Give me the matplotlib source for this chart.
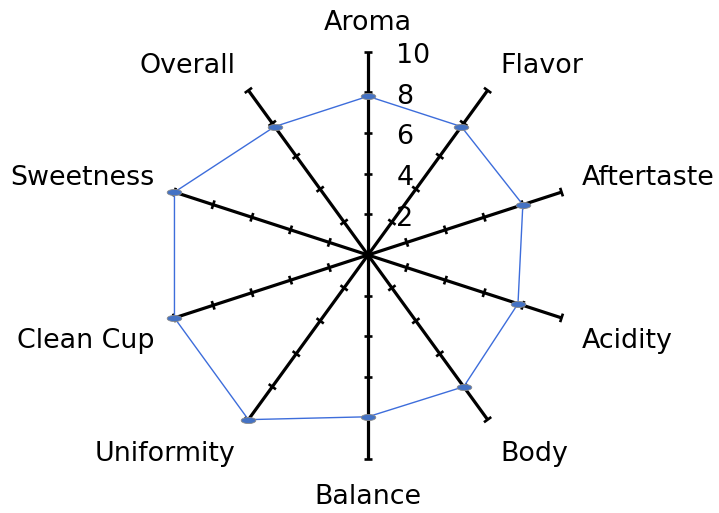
import numpy as np
import matplotlib.pyplot as plt
from matplotlib.path import Path

categories = ["Aroma", "Flavor", "Aftertaste", "Acidity", "Body",
              "Balance", "Uniformity", "Clean Cup", "Sweetness", "Overall"]
scores = [7.8, 7.8, 8.0, 7.75, 8.0, 7.95, 10.0, 10.0, 10.0, 7.8]
ring_ticks = [2, 4, 6, 8, 10]
tick_labels = ["2", "4", "6", "8", "10"]

# pixel layout of the canvas (center of the star and px per unit)
W, H = 719, 513
px = 20.35
cx, cy = 368, 255
fs = 19.4

fig = plt.figure(figsize=(W / 100, H / 100), dpi=100)
ax = fig.add_axes([0, 0, 1, 1])
ax.set_xlim(-cx / px, (W - cx) / px)
ax.set_ylim(-(H - cy) / px, cy / px)
ax.axis("off")

n = len(categories)
theta = np.arange(n) * 2 * np.pi / n
sx, cy_ = np.sin(theta), np.cos(theta)
rmax = max(ring_ticks)
half = 0.22

# spokes with perpendicular ticks
for i in range(n):
    ax.plot([0, rmax * sx[i]], [0, rmax * cy_[i]], color="black", lw=2.3,
            solid_capstyle="butt", zorder=1)
    for t in ring_ticks:
        px0, py0 = t * sx[i], t * cy_[i]
        ax.plot([px0 - half * cy_[i], px0 + half * cy_[i]],
                [py0 + half * sx[i], py0 - half * sx[i]],
                color="black", lw=1.9, solid_capstyle="butt", zorder=1)

# radial labels along the first spoke
for t, lab in zip(ring_ticks, tick_labels):
    ax.text(1.4, t - 0.22, lab, fontsize=fs, ha="left", va="center")

# category labels
R = 225 / px
for i, name in enumerate(categories):
    if abs(sx[i]) < 0.01:
        ha = "center"
    elif sx[i] > 0:
        ha = "left"
    else:
        ha = "right"
    if cy_[i] > 0:
        ax.text(R * sx[i], R * cy_[i], name, fontsize=fs, ha=ha, va="baseline")
    else:
        ax.text(R * sx[i], R * cy_[i] - 0.18, name, fontsize=fs, ha=ha, va="top")

# data polygon
vals = np.array(scores + scores[:1])
xs = vals * np.append(sx, sx[0])
ys = vals * np.append(cy_, cy_[0])
t_ = np.linspace(0, 2 * np.pi, 40)
ellipse = Path(np.column_stack([np.cos(t_), 0.42 * np.sin(t_)]), closed=True)
ax.plot(xs, ys, color="#3d6ddb", lw=1.0, zorder=2)
ax.plot(xs[:-1], ys[:-1], ls="none", marker=ellipse, markersize=10.5,
        markerfacecolor="#4472c4", markeredgecolor="#8a8a8a",
        markeredgewidth=0.6, zorder=3)

fig.savefig("out.png", dpi=100)
